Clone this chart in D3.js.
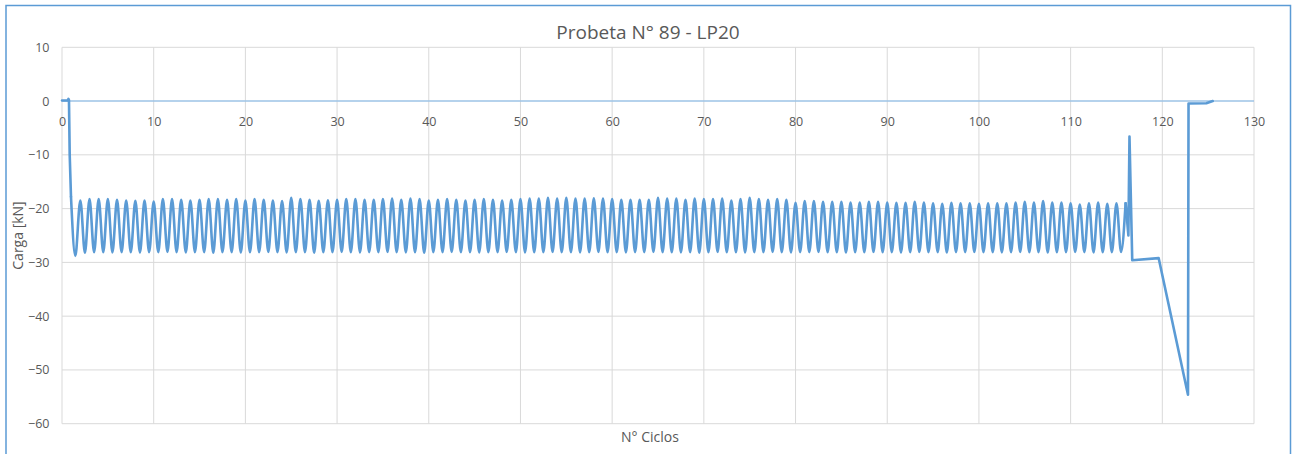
<!DOCTYPE html>
<html>
<head>
<meta charset="utf-8">
<script src="https://cdn.jsdelivr.net/npm/d3@7"></script>
<style>
  html, body { margin: 0; padding: 0; background: #fff; }
  svg { display: block; font-family: "Open Sans", "Noto Sans", sans-serif; }
</style>
</head>
<body>
<svg id="chart" width="1299" height="454"></svg>
<script>
// Load test record: specimen 89, LP20

const chartTitle = "Probeta N° 89 - LP20";
const xTitle = "N° Ciclos";
const yTitle = "Carga [kN]";

const xTicks = [0, 10, 20, 30, 40, 50, 60, 70, 80, 90, 100, 110, 120, 130];
const yTicks = [10, 0, -10, -20, -30, -40, -50, -60];

// Pre-load: at rest, small bump, then fast ramp into compression
const leadCycles = [0, 0.62, 0.7, 0.76, 0.84, 0.98];
const leadLoads  = [0.1, 0.1, 0.4, 0.2, -10, -17.8];

// Upper load of each cycle (cycles 2 .. 116)
const peakLoads = [
  -18.49, -18.24, -18.24, -18.24, -18.37, -18.49, -18.55, -18.49, -18.68, -18.24,
  -18.24, -18.37, -18.49, -18.37, -18.24, -18.24, -18.37, -18.24, -18.49, -18.24,
  -18.37, -18.49, -18.61, -18.00, -18.24, -18.37, -18.55, -18.46,
  -18.37, -18.24, -18.24, -18.37, -18.37, -18.24, -18.12, -18.37, -18.12, -18.24,
  -18.49, -18.37, -18.24, -18.37, -18.49, -18.37, -18.24, -18.37, -18.49, -18.37,
  -18.24, -18.12, -18.12, -18.00, -18.12, -18.00, -18.12, -18.12, -18.06,
  -18.12, -18.24, -18.37, -18.37, -18.37, -18.37, -18.00, -18.12, -18.12, -18.37,
  -18.12, -18.24, -18.24, -18.12, -18.49, -18.24, -18.00, -18.24, -18.37, -18.24,
  -18.37, -18.92, -18.61, -18.61, -18.74, -18.74, -18.74, -18.86, -18.86,
  -18.74, -18.74, -18.86, -18.92, -18.92, -18.74, -18.86, -18.99, -19.11, -18.92,
  -18.99, -18.99, -19.11, -18.99, -18.99, -18.99, -18.86, -18.74, -18.86, -18.61,
  -18.86, -18.86, -18.99, -19.23, -18.99, -18.86, -19.11, -18.99, -18.99
];

// Lower load of each cycle (half cycles 1.5 .. 115.5)
const troughLoads = [
  -28.80, -28.20, -28.10, -28.10, -28.15, -28.10, -28.10, -28.15, -28.10, -28.10,
  -28.05, -28.10, -28.15, -28.10, -28.10, -28.20, -28.10, -28.10, -28.15, -28.10,
  -28.10, -28.05, -28.10, -28.15, -28.10, -28.10, -28.20, -28.10, -28.10, -28.05,
  -28.10, -28.15, -28.10, -28.10, -28.05, -28.10, -28.15, -28.10, -28.20, -28.10,
  -28.10, -28.05, -28.10, -28.10, -28.15, -28.10, -28.10, -28.05, -28.10, -28.15,
  -28.10, -28.10, -28.05, -28.10, -28.10, -28.15, -28.10, -28.05, -28.10, -28.10,
  -28.15, -28.10, -28.10, -28.05, -28.10, -28.10, -28.15, -28.10, -28.20, -28.10,
  -28.05, -28.10, -28.10, -28.15, -28.10, -28.10, -28.05, -28.10, -28.15, -28.10,
  -28.10, -28.05, -28.10, -28.10, -28.15, -28.10, -28.10, -28.05, -28.10, -28.10,
  -28.15, -28.10, -28.05, -28.10, -28.10, -28.15, -28.10, -28.10, -28.05, -28.10,
  -28.10, -28.15, -28.10, -28.05, -28.10, -28.10, -28.15, -28.10, -28.10, -28.05,
  -28.10, -28.15, -28.10, -28.10, -28.05
];

// Failure sequence after the last full cycle
const tailCycles = [116.0, 116.3, 116.42, 116.72, 119.6, 122.8, 122.86, 124.8, 125.5];
const tailLoads  = [-18.99, -25.0, -6.6, -29.6, -29.2, -54.6, -0.45, -0.4, 0.0];

const svg = d3.select("#chart");

const x = d3.scaleLinear().domain([0, 130]).range([62, 1254]);
const y = d3.scaleLinear().domain([-60, 10]).range([423.7, 47.3]);

const textColor = "#595959";
const gridColor = "#d9d9d9";
const lineColor = "#5b9bd5";

// Outer chart frame
svg.append("rect")
  .attr("x", 6).attr("y", 5.5)
  .attr("width", 1284.5).attr("height", 460)
  .attr("fill", "none")
  .attr("stroke", "#5b9bd5")
  .attr("stroke-width", 1.5);

// Gridlines
svg.append("g").selectAll("line")
  .data(yTicks.filter(d => d !== 0))
  .join("line")
  .attr("x1", x(0)).attr("x2", x(130))
  .attr("y1", d => y(d)).attr("y2", d => y(d))
  .attr("stroke", gridColor).attr("stroke-width", 1);

svg.append("g").selectAll("line")
  .data(xTicks)
  .join("line")
  .attr("x1", d => x(d)).attr("x2", d => x(d))
  .attr("y1", y(10)).attr("y2", y(-60))
  .attr("stroke", gridColor).attr("stroke-width", 1);

// Horizontal axis line at zero load
svg.append("line")
  .attr("x1", x(0)).attr("x2", x(130))
  .attr("y1", y(0)).attr("y2", y(0))
  .attr("stroke", "#9dc3e6").attr("stroke-width", 1.5);

// Axes (labels only)
const xAxis = svg.append("g")
  .attr("transform", `translate(0,${y(0)})`)
  .call(d3.axisBottom(x).tickValues(xTicks).tickSize(0).tickPadding(16.5));
const yAxis = svg.append("g")
  .attr("transform", `translate(${x(0)},0)`)
  .call(d3.axisLeft(y).tickValues(yTicks).tickSize(0).tickPadding(12.5));
[xAxis, yAxis].forEach(g => {
  g.select(".domain").remove();
  g.selectAll("text")
    .attr("fill", textColor)
    .style("font-size", "12.5px")
    .style("font-family", "'Open Sans', sans-serif");
});

// Load trace
const plotLoad = (pts, curve) => d3.line()
  .x(d => x(d[0])).y(d => y(d[1]))
  .curve(curve)(pts);

const leadPts = leadCycles.map((c, i) => [c, leadLoads[i]]);
const cyclePts = [[leadCycles[leadCycles.length - 1], leadLoads[leadLoads.length - 1]]];
troughLoads.forEach((t, i) => {
  cyclePts.push([i === 0 ? 1.45 : i + 1.5, t]);
  cyclePts.push([i + 2, peakLoads[i]]);
});
const tailPts = tailCycles.map((c, i) => [c, tailLoads[i]]);

const trace = svg.append("g")
  .attr("fill", "none")
  .attr("stroke", lineColor)
  .attr("stroke-width", 2.6)
  .attr("stroke-linejoin", "round")
  .attr("stroke-linecap", "round");
trace.append("path").attr("d", plotLoad(leadPts, d3.curveLinear));
trace.append("path").attr("d", plotLoad(cyclePts, d3.curveMonotoneX));
trace.append("path").attr("d", plotLoad(tailPts, d3.curveLinear));

// Titles
svg.append("text")
  .attr("x", 648).attr("y", 39)
  .attr("text-anchor", "middle")
  .attr("fill", textColor)
  .style("font-size", "19px")
  .text(chartTitle);

svg.append("text")
  .attr("transform", `translate(23,${(y(10) + y(-60)) / 2}) rotate(-90)`)
  .attr("text-anchor", "middle")
  .attr("fill", textColor)
  .style("font-size", "14px")
  .text(yTitle);

svg.append("text")
  .attr("x", 650).attr("y", 442)
  .attr("text-anchor", "middle")
  .attr("fill", textColor)
  .style("font-size", "14px")
  .text(xTitle);
</script>
</body>
</html>
